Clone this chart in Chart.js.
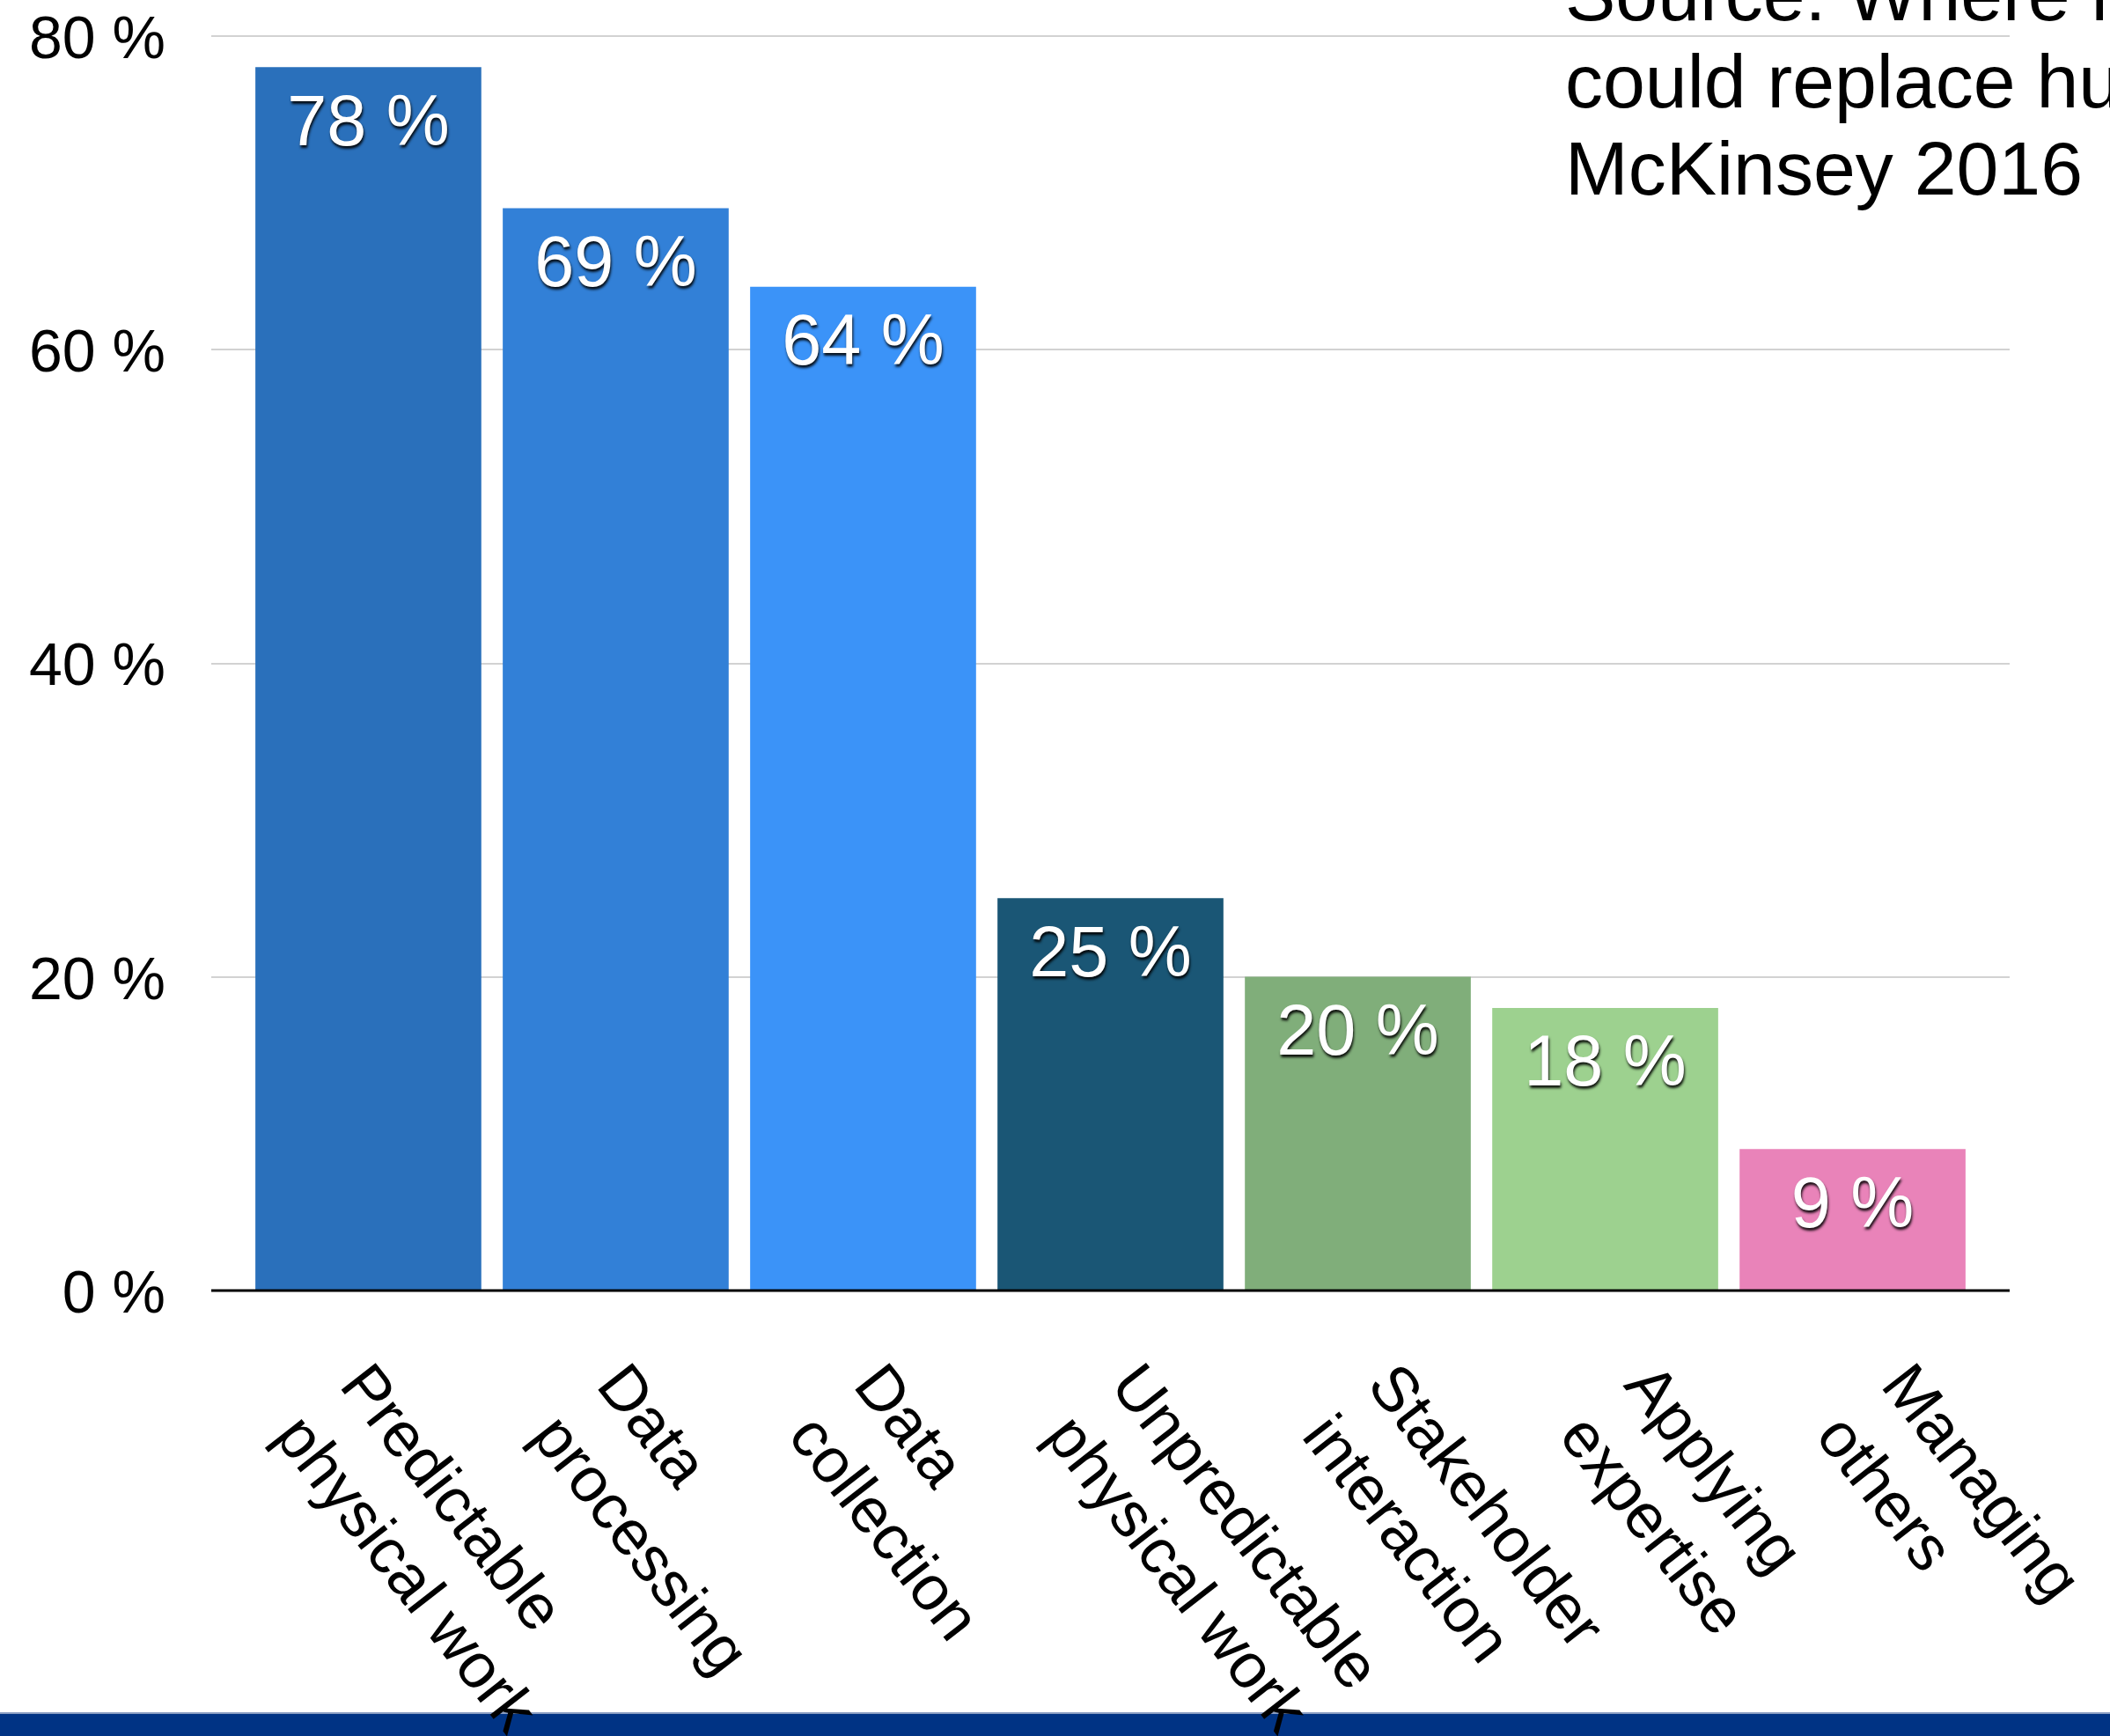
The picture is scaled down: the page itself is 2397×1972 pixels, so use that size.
<!DOCTYPE html>
<html><head><meta charset="utf-8">
<script src="https://cdn.jsdelivr.net/npm/chart.js@4.4.1/dist/chart.umd.min.js"></script>
<style>
html,body{margin:0;padding:0;overflow:hidden;background:#fff;}
#wrap{position:relative;width:2397px;height:1972px;}
#band{position:absolute;left:0;top:1945px;width:2397px;height:27px;background:#003384;border-top:2px solid #8a9dc2;box-sizing:border-box}
canvas{position:absolute;left:0;top:0;}
</style></head><body>
<div id="wrap"><div id="band"></div><canvas id="c" width="2397" height="1972"></canvas></div>
<script>
const categories = [["Predictable","physical work"],["Data","processing"],["Data","collection"],["Unpredictable","physical work"],["Stakeholder","interaction"],["Applying","expertise"],["Managing","others"]];
const values = [78, 69, 64, 25, 20, 18, 9];
const barColors = ["#2a70bb","#3280d7","#3b93f8","#1a5675","#80ae7a","#9dd18f","#e983b9"];
const yTicks = [0, 20, 40, 60, 80];
const sourceLines = ["Source: Where machines","could replace humans","McKinsey 2016"];

const FONT = "'Liberation Sans', Arial, Helvetica, sans-serif";
Chart.defaults.font.family = FONT;
Chart.defaults.color = '#000';

const zeroLine = {
  id: 'zeroLine',
  afterDatasetsDraw(chart) {
    const {ctx, chartArea, scales} = chart;
    const y0 = scales.y.getPixelForValue(0);
    ctx.save();
    ctx.strokeStyle = '#000';
    ctx.lineWidth = 3;
    ctx.beginPath();
    ctx.moveTo(chartArea.left, y0);
    ctx.lineTo(chartArea.right, y0);
    ctx.stroke();
    ctx.restore();
  }
};

const valueLabels = {
  id: 'valueLabels',
  afterDatasetsDraw(chart) {
    const {ctx} = chart;
    const meta = chart.getDatasetMeta(0);
    ctx.save();
    ctx.font = '81px ' + FONT;
    ctx.fillStyle = '#fff';
    ctx.textAlign = 'center';
    ctx.textBaseline = 'alphabetic';
    ctx.shadowColor = 'rgba(0,0,0,0.9)';
    ctx.shadowOffsetX = 1;
    ctx.shadowOffsetY = 3;
    ctx.shadowBlur = 3;
    meta.data.forEach((bar, i) => {
      ctx.fillText(values[i] + ' %', bar.x, bar.y + 88);
    });
    ctx.restore();
  }
};

const catLabels = {
  id: 'catLabels',
  afterDraw(chart) {
    const {ctx, chartArea, scales} = chart;
    const ang = 52 * Math.PI / 180;
    ctx.save();
    ctx.font = '72px ' + FONT;
    ctx.fillStyle = '#000';
    ctx.textAlign = 'left';
    ctx.textBaseline = 'alphabetic';
    categories.forEach((lines, i) => {
      const sx = scales.x.getPixelForValue(i);
      ctx.save();
      ctx.translate(sx - 2, chartArea.bottom + 108);
      ctx.rotate(ang);
      lines.forEach((t, k) => ctx.fillText(t, 0, k * 94));
      ctx.restore();
    });
    ctx.restore();
  }
};

const sourceText = {
  id: 'sourceText',
  afterDraw(chart) {
    const {ctx} = chart;
    ctx.save();
    ctx.font = '86px ' + FONT;
    ctx.fillStyle = '#000';
    ctx.textAlign = 'left';
    ctx.textBaseline = 'alphabetic';
    sourceLines.forEach((t, k) => ctx.fillText(t, 1778, 23 + k * 99));
    ctx.restore();
  }
};

new Chart(document.getElementById('c'), {
  type: 'bar',
  data: {
    labels: categories.map(c => c.join(' ')),
    datasets: [{
      data: values.map((v, i) => ({x: i, y: v})),
      xAxisID: 'xb',
      backgroundColor: barColors,
      borderWidth: 0,
      barThickness: 256
    }]
  },
  options: {
    responsive: false,
    devicePixelRatio: 1,
    animation: false,
    layout: {padding: {left: 0, right: 114, top: 41, bottom: 506}},
    plugins: {legend: {display: false}, tooltip: {enabled: false}},
    scales: {
      x: {
        type: 'category', labels: categories.map(c => c.join(' ')),
        offset: true, display: false
      },
      xb: {
        type: 'linear', axis: 'x', position: 'bottom',
        min: -0.635, max: 6.635, offset: false, display: false,
        grid: {offset: false}
      },
      y: {
        min: 0, max: 80,
        afterBuildTicks: s => { s.ticks = yTicks.map(v => ({value: v})); },
        afterFit: s => { s.width = 240; s.paddingTop = 0; s.paddingBottom = 0; },
        border: {display: false},
        grid: {
          drawTicks: false,
          color: c => c.tick && c.tick.value === 0 ? 'rgba(0,0,0,0)' : '#d2d2d2',
          lineWidth: 2
        },
        ticks: {
          padding: 52,
          labelOffset: 6,
          font: {size: 68, lineHeight: 1},
          color: '#000',
          callback: v => v + ' %'
        }
      }
    }
  },
  plugins: [zeroLine, valueLabels, catLabels, sourceText]
});
</script>
</body></html>
